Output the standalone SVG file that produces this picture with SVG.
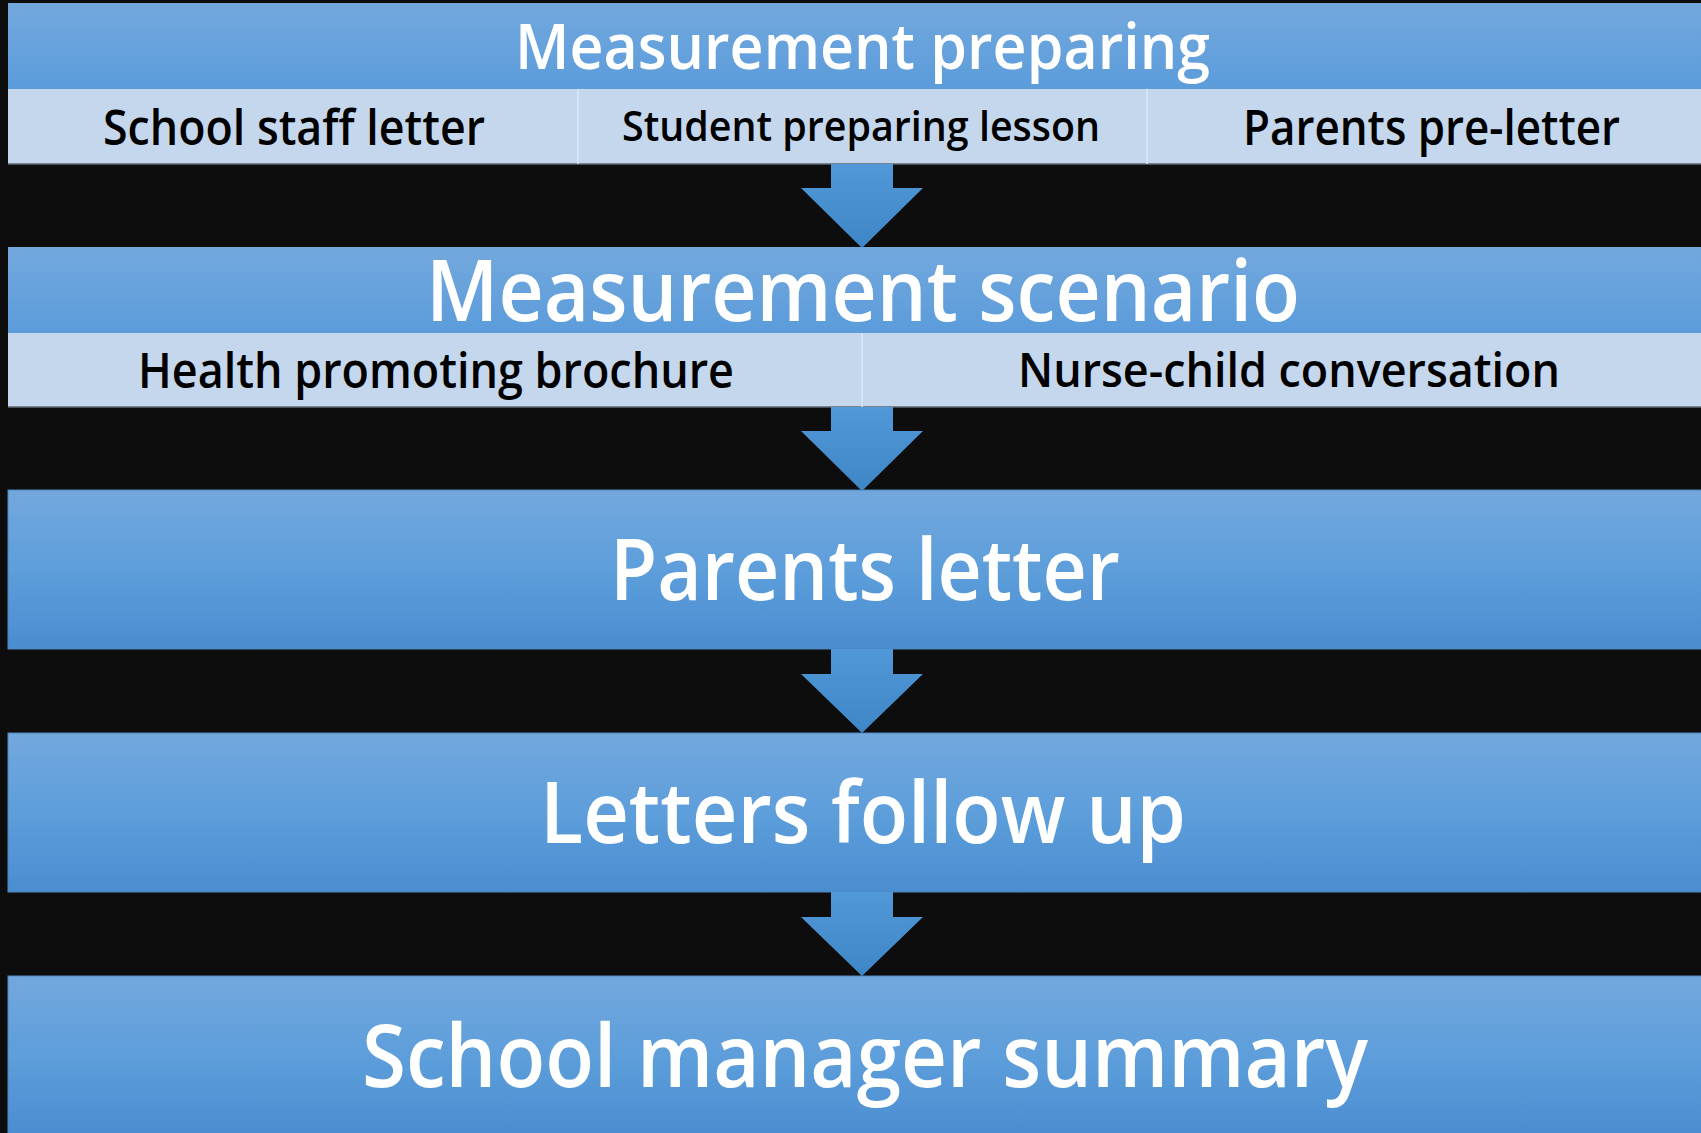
<svg xmlns="http://www.w3.org/2000/svg" width="1701" height="1133" viewBox="0 0 1701 1133">
  <defs>
    <linearGradient id="bandGrad" x1="0" y1="0" x2="0" y2="1">
      <stop offset="0" stop-color="#73a8dd"/>
      <stop offset="1" stop-color="#5b9cdb"/>
    </linearGradient>
    <linearGradient id="boxGrad" x1="0" y1="0" x2="0" y2="1">
      <stop offset="0" stop-color="#73a8dd"/>
      <stop offset="0.5" stop-color="#5d9edb"/>
      <stop offset="1" stop-color="#4a8dd0"/>
    </linearGradient>
    <linearGradient id="arrowGrad" x1="0" y1="0" x2="0" y2="1">
      <stop offset="0" stop-color="#5198d8"/>
      <stop offset="1" stop-color="#3f86c7"/>
    </linearGradient>
    <style>
      .band { fill: url(#bandGrad); }
      .box { fill: url(#boxGrad); stroke: #4f86bd; stroke-width: 1; }
      .cell { fill: #c5d7ec; }
      .cellEdge { stroke: #5f6670; stroke-width: 1.5; }
      .divider { stroke: #dde7f4; stroke-width: 1.5; }
      .arrow { fill: url(#arrowGrad); }
      .title { font-family: "Open Sans", "Noto Sans", "Liberation Sans", sans-serif; font-weight: 600; fill: #ffffff; }
      .item { font-family: "Open Sans", "Noto Sans", "Liberation Sans", sans-serif; font-weight: 600; fill: #000000; }
    </style>
  </defs>

  <!-- background -->
  <rect x="0" y="0" width="1701" height="1133" fill="#0d0d0d"/>

  <!-- stage 1: measurement preparing -->
  <g id="node-measurement-preparing">
    <rect class="band" x="8" y="3" width="1708" height="86"/>
    <rect class="cell" x="8" y="89" width="1708" height="75"/>
    <line class="cellEdge" x1="8" y1="164" x2="1701" y2="164"/>
    <line class="divider" x1="578" y1="89" x2="578" y2="164"/>
    <line class="divider" x1="1147" y1="89" x2="1147" y2="164"/>
    <text class="title" x="515" y="69" font-size="64" textLength="695" lengthAdjust="spacingAndGlyphs">Measurement preparing</text>
    <text class="item" x="103" y="145" font-size="48" textLength="382" lengthAdjust="spacingAndGlyphs">School staff letter</text>
    <text class="item" x="622" y="141" font-size="41" textLength="478" lengthAdjust="spacingAndGlyphs">Student preparing lesson</text>
    <text class="item" x="1243" y="145" font-size="48" textLength="377" lengthAdjust="spacingAndGlyphs">Parents pre-letter</text>
  </g>

  <!-- stage 2: measurement scenario -->
  <g id="node-measurement-scenario">
    <rect class="band" x="8" y="247" width="1708" height="86"/>
    <rect class="cell" x="8" y="333" width="1708" height="74"/>
    <line class="cellEdge" x1="8" y1="407" x2="1701" y2="407"/>
    <line class="divider" x1="862" y1="333" x2="862" y2="407"/>
    <text class="title" x="426" y="321" font-size="85" textLength="874" lengthAdjust="spacingAndGlyphs">Measurement scenario</text>
    <text class="item" x="138" y="388" font-size="48" textLength="596" lengthAdjust="spacingAndGlyphs">Health promoting brochure</text>
    <text class="item" x="1018" y="387" font-size="47" textLength="542" lengthAdjust="spacingAndGlyphs">Nurse-child conversation</text>
  </g>

  <!-- stage 3: parents letter -->
  <g id="node-parents-letter">
    <rect class="box" x="8" y="490" width="1708" height="159"/>
    <text class="title" x="610" y="600" font-size="85" textLength="510" lengthAdjust="spacingAndGlyphs">Parents letter</text>
  </g>

  <!-- stage 4: letters follow up -->
  <g id="node-letters-follow-up">
    <rect class="box" x="8" y="733" width="1708" height="159"/>
    <text class="title" x="540" y="843" font-size="85" textLength="646" lengthAdjust="spacingAndGlyphs">Letters follow up</text>
  </g>

  <!-- stage 5: school manager summary -->
  <g id="node-school-manager-summary">
    <rect class="box" x="8" y="976" width="1708" height="160"/>
    <text class="title" x="362" y="1087" font-size="87" textLength="1006" lengthAdjust="spacingAndGlyphs">School manager summary</text>
  </g>

  <!-- downward block arrows between stages -->
  <g id="connectors">
    <polygon class="arrow" points="831,164 893,164 893,188 923,188 862,248 801,188 831,188"/>
    <polygon class="arrow" points="831,407 893,407 893,431 923,431 862,491 801,431 831,431"/>
    <polygon class="arrow" points="831,649 893,649 893,674 923,674 862,733 801,674 831,674"/>
    <polygon class="arrow" points="831,892 893,892 893,917 923,917 862,976 801,917 831,917"/>
  </g>
</svg>
